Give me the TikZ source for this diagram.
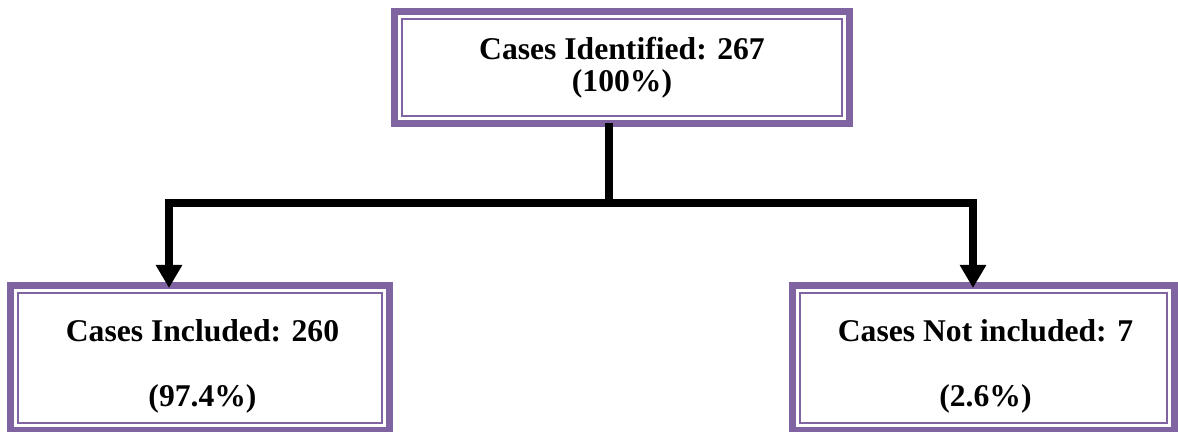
\documentclass[tikz,border=0pt]{standalone}
\usepackage{fontspec}
\setmainfont{Liberation Serif}
\usetikzlibrary{arrows.meta}
\usetikzlibrary{positioning}
\definecolor{mpurple}{HTML}{8064A2}

\tikzset{
    casebox/.style={draw=mpurple, line width=0.14cm, outer sep=0pt, inner sep=0pt,
        path picture={\draw [mpurple, line width=0.04cm]
            ([shift={(0.15cm,0.15cm)}]path picture bounding box.south west) rectangle
            ([shift={(-0.15cm,-0.15cm)}]path picture bounding box.north east);}},
    casetext/.style={font=\bfseries\fontsize{18}{22}\selectfont, align=center},
    flow/.style={line width=0.16cm, line join=miter},
    flowarrow/.style={flow, -{Triangle[width=0.5cm, length=0.46cm]}}
}

\begin{document}
\begin{tikzpicture}
    \useasboundingbox (0, 0) rectangle (23.56, 8.64);

    \node [casebox, casetext, minimum width=9.1cm, minimum height=2.24cm] (identified) at (12.44, 7.29) {Cases Identified: 267\\[-4pt](100\%)};
    \node [casebox, minimum width=7.58cm, minimum height=2.9cm] (included) at (4.0, 1.48) {};
    \node [casebox, minimum width=7.64cm, minimum height=2.9cm] (excluded) at (19.67, 1.48) {};

    \node [casetext] (includedtext) at ([xshift=0.05cm, yshift=-0.17cm]included.center) {Cases Included: 260\\[15.4pt](97.4\%)};
    \node [casetext] (excludedtext) at ([xshift=0.04cm, yshift=-0.17cm]excluded.center) {Cases Not included: 7\\[15.4pt](2.6\%)};

    \coordinate (split) at (12.17, 4.58);
    \coordinate (leftend) at (3.38, 2.88);
    \coordinate (rightend) at (19.46, 2.88);

    \draw [flow] ([xshift=-0.27cm]identified.south) -- (split);
    \draw [flowarrow] (split) -| (leftend);
    \draw [flowarrow] (split) -| (rightend);
  \end{tikzpicture}
\end{document}
